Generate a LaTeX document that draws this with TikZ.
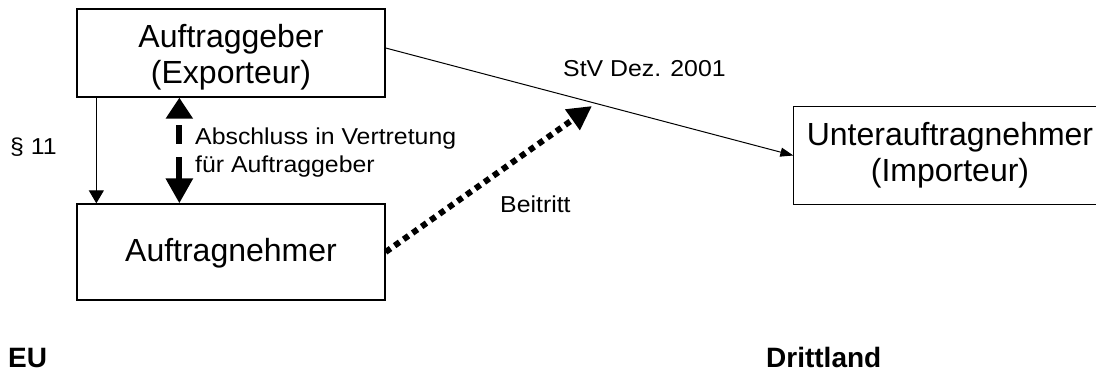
\documentclass[tikz,border=0pt]{standalone}
\usepackage{fontspec}
\setmainfont{Liberation Sans}
\usetikzlibrary{arrows.meta}
\newcommand\lblstretch[1]{\scalebox{1.08}[1]{#1}}
\begin{document}
\begin{tikzpicture}[x=1pt,y=-1pt,
  box/.style={draw,line width=1.3pt,inner sep=0pt,align=center,
    font=\fontsize{32}{36}\selectfont},
  lbl/.style={inner sep=0pt,font=\fontsize{23}{27}\selectfont},
  region/.style={inner sep=0pt,font=\fontsize{28}{30}\selectfont\bfseries}]
\useasboundingbox (0,0) rectangle (1096,374);
\clip (0,0) rectangle (1096,374);
\fill[white] (0,0) rectangle (1096,374);

\node[box,minimum width=308pt,minimum height=88pt] (ag) at (231,53)
  {\rule{0pt}{30.7pt}Auftraggeber\\(Exporteur)};
\node[box,minimum width=308pt,minimum height=96pt] (an) at (231,252)
  {\rule{0pt}{26.6pt}Auftragnehmer};
\node[box,draw=none,minimum width=312pt,minimum height=97pt] (un) at (950,155.5)
  {Unterauftragnehmer\\(Importeur)};
\draw[line width=1.3pt] (un.north east) ++(60,0) -- (un.north west)
  -- (un.south west) -- ++(372,0);
\coordinate (bt) at (592,106);

% § 11 arrow
\draw[line width=1pt,-{Triangle[width=15pt,length=13pt]}]
  ([xshift=20pt]ag.south west) -- ([xshift=20pt]an.north west);
% thick dashed double arrow
\draw[line width=6pt,dash pattern=on 0pt off 8pt on 19pt off 13pt on 60pt,
  {Triangle[width=26pt,length=21pt]}-{Triangle[width=26pt,length=25pt]}]
  ([xshift=103pt]ag.south west) -- ([xshift=103pt]an.north west);
% StV line
\draw[line width=1pt,-{Triangle[width=9pt,length=13pt]}]
  ([yshift=5pt]ag.east) -- (un.west);
% Beitritt dotted arrow
\draw[line width=6pt,dash pattern=on 6pt off 5pt,-{Triangle[width=24pt,length=24pt]}]
  (an.east) -- (bt);

\node[lbl,anchor=base west] (p11) at (10,155) {\lblstretch{§ 11}};
\node[lbl,anchor=base west] (abs1) at (195,145) {\lblstretch{Abschluss in Vertretung}};
\node[lbl,anchor=base west] (abs2) at (195,173) {\lblstretch{für Auftraggeber}};
\node[lbl,anchor=base west] (stv) at (563,77) {\lblstretch{StV Dez. 2001}};
\node[lbl,anchor=base west] (bei) at (500,213) {\lblstretch{Beitritt}};
\node[region,anchor=base west] (eu) at (8,367) {EU};
\node[region,anchor=base west] (dl) at (766,367) {Drittland};
\end{tikzpicture}
\end{document}
